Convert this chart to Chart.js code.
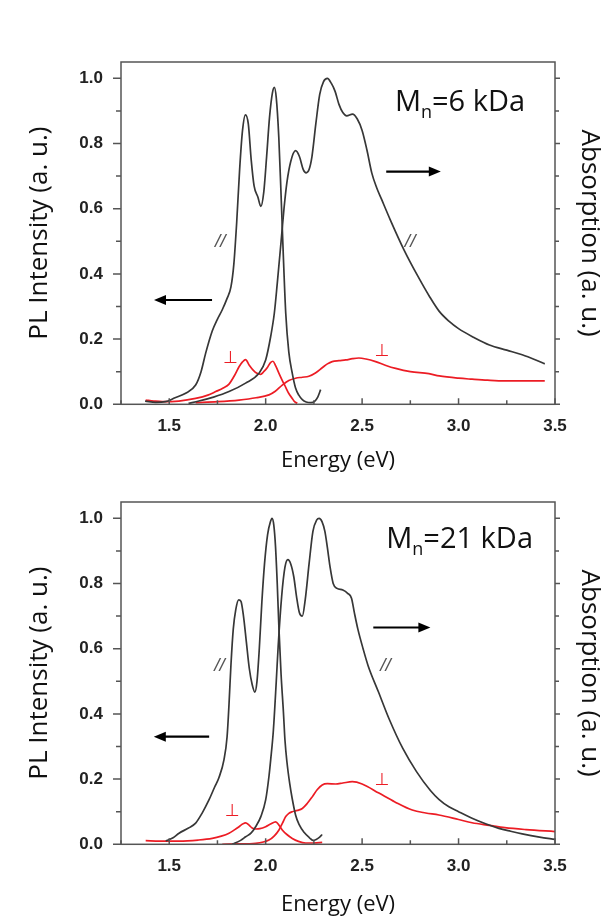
<!DOCTYPE html>
<html><head><meta charset="utf-8">
<script src="https://cdn.jsdelivr.net/npm/chart.js@4.4.1/dist/chart.umd.min.js"></script>
<style>
html,body{margin:0;padding:0;background:#fff;}
#wrap{position:relative;width:607px;height:924px;overflow:hidden;background:#fff;}
canvas{position:absolute;left:0;}
</style></head><body>
<div id="wrap">
<canvas id="c1" width="607" height="480" style="top:0"></canvas>
<canvas id="c2" width="607" height="484" style="top:440px"></canvas>
</div>
<script>
// ---- axes ----
const xTickLabels = [1.5, 2.0, 2.5, 3.0, 3.5];
const xMinorTicks = [1.25, 1.75, 2.25, 2.75, 3.25];
const yTickLabels = [0.0, 0.2, 0.4, 0.6, 0.8, 1.0];
const yMinorTicks = [0.1, 0.3, 0.5, 0.7, 0.9];

// ---- Mn = 6 kDa ----
const pl6ParX = [1.375,1.43,1.48,1.53,1.585,1.637,1.665,1.689,1.723,1.749,1.775,1.80,1.82,1.835,1.85,1.865,1.88,1.895,1.91,1.925,1.94,1.96,1.975,1.99,2.005,2.02,2.035,2.045,2.055,2.068,2.08,2.09,2.104,2.12,2.138,2.155,2.172,2.19,2.21,2.235,2.255,2.27,2.285];
const pl6ParY = [0.01,0.006,0.008,0.02,0.034,0.059,0.10,0.157,0.225,0.26,0.29,0.325,0.36,0.43,0.56,0.72,0.84,0.888,0.86,0.75,0.67,0.635,0.607,0.65,0.76,0.88,0.955,0.972,0.94,0.82,0.64,0.48,0.28,0.16,0.095,0.05,0.028,0.014,0.007,0.005,0.01,0.022,0.045];

const abs6ParX = [1.60,1.654,1.73,1.81,1.896,1.965,2.0,2.026,2.045,2.06,2.08,2.095,2.11,2.13,2.155,2.175,2.195,2.21,2.225,2.24,2.26,2.28,2.30,2.32,2.34,2.36,2.38,2.40,2.42,2.45,2.475,2.50,2.525,2.55,2.575,2.60,2.646,2.717,2.789,2.85,2.90,2.95,3.0,3.08,3.16,3.25,3.33,3.40,3.447];
const abs6ParY = [0.003,0.01,0.022,0.039,0.065,0.095,0.136,0.208,0.28,0.37,0.50,0.60,0.68,0.745,0.778,0.76,0.72,0.71,0.72,0.76,0.86,0.95,0.99,1.0,0.985,0.96,0.92,0.895,0.885,0.89,0.875,0.84,0.78,0.71,0.665,0.63,0.566,0.474,0.393,0.33,0.285,0.255,0.232,0.205,0.182,0.166,0.152,0.136,0.124];

const pl6PerpX = [1.378,1.42,1.464,1.55,1.637,1.70,1.741,1.78,1.81,1.84,1.862,1.88,1.896,1.915,1.935,1.955,1.974,1.99,2.008,2.025,2.038,2.052,2.069,2.087,2.104,2.12,2.138,2.15,2.164];
const pl6PerpY = [0.013,0.01,0.008,0.01,0.018,0.028,0.039,0.05,0.062,0.09,0.115,0.13,0.137,0.12,0.105,0.095,0.092,0.10,0.112,0.128,0.132,0.118,0.095,0.072,0.052,0.033,0.018,0.008,0.003];

const abs6PerpX = [1.637,1.75,1.862,1.95,2.017,2.05,2.086,2.12,2.155,2.19,2.224,2.26,2.293,2.32,2.345,2.38,2.415,2.45,2.483,2.52,2.57,2.62,2.674,2.75,2.846,2.90,3.0,3.07,3.15,3.24,3.35,3.447];
const abs6PerpY = [0.005,0.008,0.013,0.02,0.029,0.04,0.059,0.073,0.08,0.083,0.086,0.097,0.112,0.124,0.131,0.134,0.136,0.14,0.142,0.139,0.131,0.12,0.11,0.10,0.094,0.087,0.08,0.077,0.074,0.072,0.072,0.072];

// ---- Mn = 21 kDa ----
const pl21ParX = [1.482,1.52,1.551,1.60,1.637,1.67,1.706,1.735,1.758,1.784,1.80,1.81,1.82,1.832,1.845,1.86,1.872,1.885,1.90,1.915,1.93,1.944,1.955,1.967,1.98,1.994,2.01,2.025,2.033,2.042,2.051,2.06,2.069,2.08,2.092,2.10,2.11,2.125,2.137,2.155,2.173,2.20,2.227,2.245,2.262,2.28,2.293];
const pl21ParY = [0.01,0.02,0.034,0.05,0.065,0.095,0.136,0.175,0.205,0.26,0.33,0.43,0.55,0.66,0.72,0.75,0.745,0.70,0.62,0.54,0.49,0.467,0.50,0.60,0.74,0.86,0.95,0.99,1.0,0.98,0.914,0.80,0.66,0.52,0.406,0.32,0.254,0.185,0.142,0.09,0.061,0.036,0.02,0.012,0.015,0.022,0.03];

const abs21ParX = [1.827,1.87,1.896,1.925,1.948,1.975,2.0,2.017,2.026,2.04,2.055,2.065,2.083,2.10,2.115,2.13,2.146,2.16,2.175,2.19,2.205,2.225,2.245,2.265,2.277,2.292,2.307,2.32,2.334,2.35,2.37,2.40,2.425,2.445,2.46,2.478,2.505,2.531,2.585,2.639,2.711,2.782,2.854,2.898,2.95,3.0,3.07,3.14,3.209,3.27,3.33,3.42,3.5];
const abs21ParY = [0.0,0.012,0.023,0.035,0.054,0.085,0.136,0.208,0.259,0.35,0.50,0.609,0.761,0.85,0.873,0.86,0.82,0.76,0.71,0.70,0.75,0.86,0.96,0.995,1.0,0.99,0.96,0.91,0.85,0.80,0.785,0.78,0.77,0.755,0.71,0.66,0.60,0.548,0.467,0.386,0.294,0.223,0.165,0.138,0.115,0.10,0.08,0.063,0.049,0.04,0.032,0.022,0.015];

const pl21PerpX = [1.378,1.45,1.551,1.65,1.723,1.77,1.81,1.84,1.862,1.88,1.896,1.915,1.93,1.948,1.97,2.0,2.025,2.052,2.07,2.086,2.11,2.138,2.17,2.207,2.25,2.293];
const pl21PerpY = [0.011,0.01,0.01,0.013,0.018,0.025,0.034,0.045,0.054,0.062,0.066,0.058,0.05,0.047,0.048,0.054,0.062,0.069,0.058,0.044,0.03,0.018,0.009,0.004,0.004,0.006];

const abs21PerpX = [1.775,1.85,1.948,2.017,2.045,2.069,2.087,2.104,2.12,2.138,2.165,2.19,2.215,2.242,2.268,2.293,2.32,2.363,2.40,2.449,2.50,2.587,2.67,2.76,2.83,2.898,3.0,3.07,3.16,3.24,3.35,3.5];
const abs21PerpY = [0.0,0.001,0.003,0.013,0.026,0.044,0.065,0.085,0.095,0.10,0.104,0.11,0.125,0.146,0.168,0.182,0.186,0.185,0.188,0.192,0.185,0.157,0.13,0.105,0.096,0.09,0.076,0.066,0.058,0.051,0.045,0.039];

// ---- annotations (data coordinates) ----
const ann6 = {
  mn: {x: 2.67, y: 0.925, sub: 'n', rest: '=6 kDa'},
  arrows: [{from: 1.722, to: 1.421, y: 0.32}, {from: 2.625, to: 2.908, y: 0.714}],
  par: [{x: 1.765, y: 0.50}, {x: 2.749, y: 0.50}],
  perp: [{x: 1.818, y: 0.139}, {x: 2.604, y: 0.162}]
};
const ann21 = {
  mn: {x: 2.625, y: 0.935, sub: 'n', rest: '=21 kDa'},
  arrows: [{from: 1.707, to: 1.42, y: 0.33}, {from: 2.558, to: 2.854, y: 0.665}],
  par: [{x: 1.761, y: 0.548}, {x: 2.621, y: 0.548}],
  perp: [{x: 1.827, y: 0.10}, {x: 2.604, y: 0.195}]
};

const BLACK = 'rgb(55,55,55)';
const RED = 'rgb(236,28,36)';
const pts = (xs, ys) => xs.map((x, i) => ({x: x, y: ys[i]}));

const decor = {
  id: 'decor',
  afterDatasetsDraw(chart, args, o) {
    const {ctx, chartArea: a, scales: {x, y}} = chart;
    ctx.save();
    ctx.strokeStyle = '#555'; ctx.lineWidth = 1.5;
    ctx.strokeRect(a.left, a.top, a.right - a.left, a.bottom - a.top);
    ctx.beginPath();
    yTickLabels.forEach(v => { const p = y.getPixelForValue(v);
      ctx.moveTo(a.left, p); ctx.lineTo(a.left - 8, p);
      ctx.moveTo(a.right, p); ctx.lineTo(a.right + 5, p); });
    yMinorTicks.forEach(v => { const p = y.getPixelForValue(v);
      ctx.moveTo(a.left, p); ctx.lineTo(a.left - 5, p);
      ctx.moveTo(a.right, p); ctx.lineTo(a.right + 4, p); });
    xTickLabels.forEach(v => { const p = x.getPixelForValue(v);
      ctx.moveTo(p, a.bottom); ctx.lineTo(p, a.bottom - 6); });
    xMinorTicks.forEach(v => { const p = x.getPixelForValue(v);
      ctx.moveTo(p, a.bottom); ctx.lineTo(p, a.bottom - 4); });
    ctx.stroke();

    // arrows
    ctx.strokeStyle = '#000'; ctx.fillStyle = '#000'; ctx.lineWidth = 2.2;
    o.arrows.forEach(ar => {
      const x1 = x.getPixelForValue(ar.from), x2 = x.getPixelForValue(ar.to), py = y.getPixelForValue(ar.y);
      const dir = Math.sign(x2 - x1);
      ctx.beginPath(); ctx.moveTo(x1, py); ctx.lineTo(x2 - dir * 8, py); ctx.stroke();
      ctx.beginPath(); ctx.moveTo(x2, py); ctx.lineTo(x2 - dir * 12, py - 5); ctx.lineTo(x2 - dir * 12, py + 5); ctx.closePath(); ctx.fill();
    });

    // parallel marks
    ctx.fillStyle = '#555'; ctx.textAlign = 'center'; ctx.textBaseline = 'middle';
    ctx.font = 'italic 19px "Liberation Sans"';
    o.par.forEach(p => ctx.fillText('//', x.getPixelForValue(p.x), y.getPixelForValue(p.y)));
    // perpendicular marks
    ctx.fillStyle = RED; ctx.font = '17px "DejaVu Sans"';
    o.perp.forEach(p => ctx.fillText('\u22A5', x.getPixelForValue(p.x), y.getPixelForValue(p.y)));

    // Mn label
    const m = o.mn;
    let px = x.getPixelForValue(m.x); const py = y.getPixelForValue(m.y);
    ctx.fillStyle = '#111'; ctx.textAlign = 'left'; ctx.textBaseline = 'middle';
    ctx.font = '29px "Open Sans"';
    ctx.fillText('M', px, py); px += ctx.measureText('M').width;
    ctx.font = '18px "Open Sans"';
    ctx.fillText(m.sub, px, py + 10); px += ctx.measureText(m.sub).width;
    ctx.font = '29px "Open Sans"';
    ctx.fillText(m.rest, px, py);
    ctx.restore();
  }
};

const tickFont = {family: 'Liberation Sans', size: 17, weight: 'bold'};
const xTitleFont = {family: 'Open Sans', size: 22};
const yTitleFont = {family: 'Open Sans', size: 26};

function build(id, h, sets, ann) {
  return new Chart(document.getElementById(id), {
    type: 'line',
    data: {datasets: sets},
    options: {
      responsive: false, animation: false, devicePixelRatio: 1,
      layout: {padding: {top: 62, left: 0, right: 0, bottom: 0}},
      plugins: {legend: {display: false}, tooltip: {enabled: false}, decor: ann},
      elements: {point: {radius: 0}, line: {borderWidth: 1.7, cubicInterpolationMode: 'monotone'}},
      scales: {
        x: {type: 'linear', position: 'bottom', min: 1.25, max: 3.5,
          afterBuildTicks: s => { s.ticks = xTickLabels.map(v => ({value: v})); },
          afterFit: s => { s.height = h - 404.3; },
          grid: {display: false}, border: {display: false},
          ticks: {padding: 4, color: '#222', font: tickFont, maxRotation: 0, autoSkip: false, callback: v => Number(v).toFixed(1)},
          title: {display: true, text: 'Energy (eV)', color: '#111', font: xTitleFont, padding: {top: 0, bottom: 6}}},
        y: {type: 'linear', position: 'left', min: 0, max: 1.05,
          afterBuildTicks: s => { s.ticks = yTickLabels.map(v => ({value: v})); },
          afterFit: s => { s.width = 121; },
          grid: {display: false}, border: {display: false},
          ticks: {padding: 10, color: '#222', font: tickFont, callback: v => Number(v).toFixed(1)},
          title: {display: true, text: 'PL Intensity (a. u.)', color: '#111', font: yTitleFont, padding: {top: 24, bottom: 0}}},
        y2: {type: 'linear', position: 'right', min: 0, max: 1.05,
          afterBuildTicks: s => { s.ticks = yTickLabels.map(v => ({value: v})); },
          afterFit: s => { s.width = 52; },
          grid: {display: false}, border: {display: false},
          ticks: {display: false},
          title: {display: true, text: 'Absorption (a. u.)', color: '#111', font: yTitleFont, padding: {top: 2, bottom: 0}}}
      }
    },
    plugins: [decor]
  });
}

const ds = (data, color, axis) => ({data: data, borderColor: color, yAxisID: axis, fill: false});

build('c1', 480, [
  ds(pts(pl6ParX, pl6ParY), BLACK, 'y'),
  ds(pts(abs6ParX, abs6ParY), BLACK, 'y2'),
  ds(pts(pl6PerpX, pl6PerpY), RED, 'y'),
  ds(pts(abs6PerpX, abs6PerpY), RED, 'y2')
], ann6);

build('c2', 484, [
  ds(pts(pl21ParX, pl21ParY), BLACK, 'y'),
  ds(pts(abs21ParX, abs21ParY), BLACK, 'y2'),
  ds(pts(pl21PerpX, pl21PerpY), RED, 'y'),
  ds(pts(abs21PerpX, abs21PerpY), RED, 'y2')
], ann21);
</script>
</body></html>
